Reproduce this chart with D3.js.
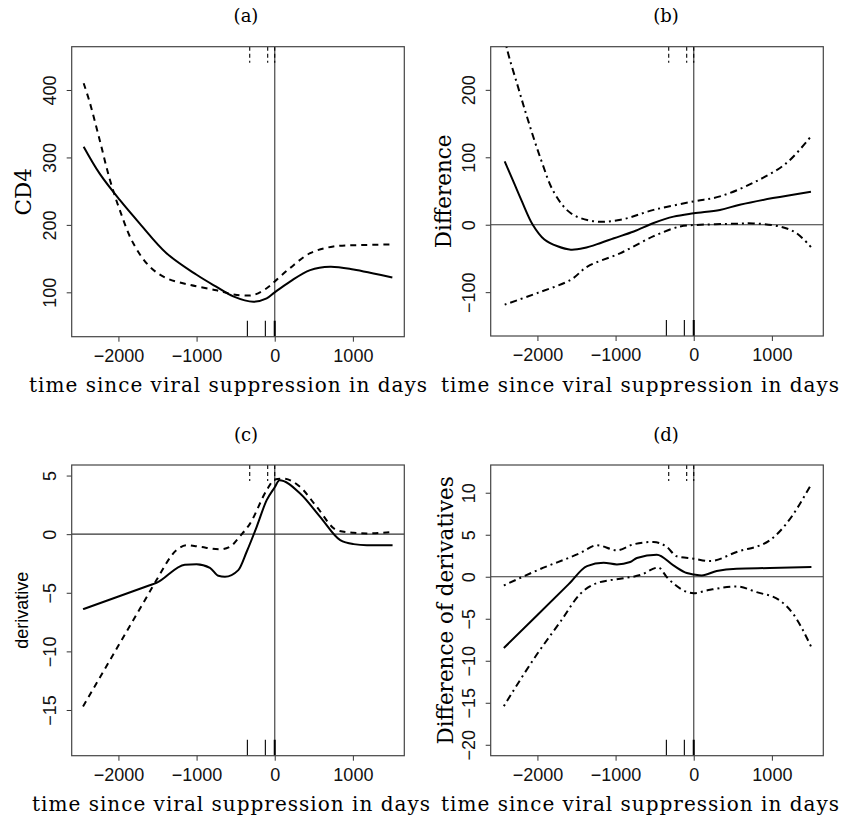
<!DOCTYPE html>
<html>
<head>
<meta charset="utf-8">
<script src="https://cdn.jsdelivr.net/npm/d3@7"></script>
<style>
  body { margin: 0; background: white; }
</style>
</head>
<body>
<div id="d3-container"></div>
<script>
// values (days since viral suppression)
let aSolidX = [-2445, -2240, -1983, -1727, -1385, -1000, -744, -531, -274, -103, 0, 196, 453, 709, 1008, 1264, 1505];
let aSolidY = [316, 276, 237, 202, 158, 126, 108, 94, 86, 91, 100, 116, 133, 138, 134, 128, 122];
let aDashX = [-2445, -2368, -2240, -2112, -1983, -1812, -1599, -1385, -1086, -744, -531, -274, -103, 0, 196, 453, 751, 1094, 1505];
let aDashY = [410, 382, 326, 268, 222, 173, 138, 121, 111, 103, 97, 96, 106, 116, 136, 158, 168, 170, 171];

let bSolidX = [-2419, -2300, -2200, -2060, -1911, -1742, -1572, -1403, -1191, -1021, -767, -513, -258, 0, 335, 589, 1013, 1500];
let bSolidY = [94, 62, 35, 0, -22, -32, -37, -34.6, -27, -20, -10, 2.5, 12, 17, 22, 29.6, 39.5, 49];
let bUpperX = [-2440, -2386, -2250, -2123, -1953, -1784, -1572, -1275, -936, -513, 0, 335, 758, 1182, 1500];
let bUpperY = [290, 259, 205, 156, 96, 47, 17, 5, 7.4, 22, 34.6, 42, 62, 91, 131];
let bLowerX = [-2419, -1996, -1572, -1360, -936, -513, -174, 0, 547, 758, 1097, 1309, 1500];
let bLowerY = [-118.5, -101, -81.5, -62, -42, -17, -2.5, -0.5, 1.5, 2, -2.5, -12, -33];

let cSolidX = [-2453, -2000, -1600, -1513, -1150, -1000, -829, -722, -637, -466, -359, -231, -103, 0, 60, 325, 581, 838, 1009, 1179, 1508];
let cSolidY = [-6.4, -5.32, -4.36, -4.15, -2.6, -2.56, -2.87, -3.55, -3.64, -3.07, -1.5, 0.63, 2.9, 4.0, 4.6, 3.47, 1.48, -0.51, -0.85, -0.94, -0.94];
let cDashX = [-2453, -2000, -1600, -1513, -1256, -1128, -957, -701, -573, -444, -316, -103, 0, 111, 325, 538, 795, 1009, 1179, 1500];
let cDashY = [-14.7, -9.5, -4.92, -3.92, -1.36, -0.94, -1.08, -1.3, -1.08, -0.17, 0.9, 3.75, 4.66, 4.74, 4.03, 2.33, 0.34, 0.11, 0.06, 0.17];

let dSolidX = [-2430, -2000, -1600, -1366, -1153, -983, -813, -728, -472, -260, -89, 0, 102, 294, 549, 974, 1506];
let dSolidY = [-8.49, -4.55, -0.88, 1.27, 1.67, 1.47, 1.75, 2.23, 2.63, 1.35, 0.44, 0.28, 0.16, 0.68, 0.96, 1.04, 1.16];
let dUpperX = [-2430, -2004, -1451, -1238, -983, -770, -515, -345, -217, 0, 209, 549, 974, 1187, 1506];
let dUpperY = [-1.04, 0.76, 2.83, 3.75, 3.15, 3.86, 4.14, 3.55, 2.43, 2.15, 1.87, 2.95, 4.34, 6.33, 11.04];
let dLowerX = [-2430, -2004, -1700, -1451, -1238, -940, -685, -450, -345, 0, 209, 549, 804, 1102, 1272, 1506];
let dLowerY = [-15.4, -9.2, -5.27, -2.03, -0.76, -0.24, 0.2, 1.1, -0.04, -1.95, -1.55, -1.16, -1.83, -2.83, -4.42, -8.4];

// rug marks
let rugBottom = [-350, -120, 0];
let rugTop = [-320, -90, 0];

let xTicks = [-2000, -1000, 0, 1000];
let aTicks = [100, 200, 300, 400];
let bTicks = [-100, 0, 100, 200];
let cTicks = [-15, -10, -5, 0, 5];
let dTicks = [-20, -15, -10, -5, 0, 5, 10];

let xDomain = [-2598, 1658];

let svg = d3.select('#d3-container')
  .append('svg')
  .attr('width', 843)
  .attr('height', 819)
  .style('background-color', 'white');

let serif = "'DejaVu Serif', serif";
let sans = "'Liberation Sans', Arial, sans-serif";

let dashed = "6,5";
let dotdash = "2,4,7,4";

function panel(opt) {
  let w = opt.right - opt.left, h = opt.bottom - opt.top;
  let x = d3.scaleLinear().domain(xDomain).range([0, w]);
  let y = d3.scaleLinear().domain(opt.yDomain).range([h, 0]);

  let g = svg.append("g").attr("transform", "translate(" + opt.left + "," + opt.top + ")");

  g.append("clipPath").attr("id", "clip" + opt.id)
    .append("rect").attr("width", w).attr("height", h);

  // x axis
  let xa = g.append("g")
    .attr("transform", "translate(0," + h + ")")
    .call(d3.axisBottom(x).tickValues(xTicks).tickFormat(d3.format("d")).tickSize(5).tickSizeOuter(0));
  xa.select(".domain").remove();
  xa.selectAll("line").attr("stroke", "#333");
  xa.selectAll("text")
    .attr("y", 25).attr("dy", 0)
    .style("font-family", sans).style("font-size", "18px").attr("fill", "#111");

  // y axis, labels parallel to the axis
  let ya = g.append("g")
    .call(d3.axisLeft(y).tickValues(opt.yTicks).tickFormat(d3.format("d")).tickSize(5).tickSizeOuter(0));
  ya.select(".domain").remove();
  ya.selectAll("line").attr("stroke", "#333");
  ya.selectAll("text")
    .attr("x", 0).attr("dy", 0)
    .attr("transform", "translate(-16,0) rotate(-90)")
    .attr("text-anchor", "middle")
    .style("font-family", sans).style("font-size", "18px").attr("fill", "#111");

  let plot = g.append("g").attr("clip-path", "url(#clip" + opt.id + ")");

  // reference lines
  plot.append("line")
    .attr("x1", x(0)).attr("x2", x(0)).attr("y1", 0).attr("y2", h)
    .attr("stroke", "#555").attr("stroke-width", 1.3);
  if (opt.hline) {
    plot.append("line")
      .attr("x1", 0).attr("x2", w).attr("y1", y(0)).attr("y2", y(0))
      .attr("stroke", "#333").attr("stroke-width", 1.2);
  }

  // rugs
  plot.selectAll(".rugb").data(rugBottom).enter().append("line")
    .attr("x1", d => x(d)).attr("x2", d => x(d))
    .attr("y1", h).attr("y2", h - 16)
    .attr("stroke", "black").attr("stroke-width", d => d === 0 ? 2 : 1.1);
  plot.selectAll(".rugt").data(rugTop).enter().append("line")
    .attr("x1", d => x(d)).attr("x2", d => x(d))
    .attr("y1", 0).attr("y2", 16)
    .attr("stroke", "black").attr("stroke-width", 1.1)
    .attr("stroke-dasharray", "4,3");

  let line = d3.line()
    .x(d => x(d[0])).y(d => y(d[1]))
    .curve(opt.curve);

  opt.series.forEach(function(s) {
    plot.append("path")
      .datum(d3.zip(s.x, s.y))
      .attr("d", line)
      .attr("fill", "none")
      .attr("stroke", "black")
      .attr("stroke-width", 2)
      .attr("stroke-dasharray", s.dash || null);
  });

  // box
  g.append("rect")
    .attr("width", w).attr("height", h)
    .attr("fill", "none").attr("stroke", "#444").attr("stroke-width", 1.2);

  // titles
  svg.append("text")
    .attr("x", opt.titleX).attr("y", opt.top - 24.5)
    .attr("text-anchor", "middle")
    .style("font-family", serif).style("font-size", "18px")
    .text(opt.title);

  svg.append("text")
    .attr("x", opt.xlabX).attr("y", opt.bottom + 55.5)
    .attr("text-anchor", "middle")
    .attr("textLength", 398).attr("lengthAdjust", "spacing")
    .style("font-family", serif).style("font-size", "20px")
    .text("time since viral suppression in days");

  svg.append("text")
    .attr("transform", "translate(" + (opt.left - opt.ylabOff) + "," + (opt.top + h / 2) + ") rotate(-90)")
    .attr("text-anchor", "middle")
    .style("font-family", opt.ylabSans ? sans : serif)
    .style("font-size", opt.ylabSans ? "18px" : "21.5px")
    .text(opt.ylab);
}

panel({
  id: "a", left: 71.7, right: 404.3, top: 46.7, bottom: 336.7,
  yDomain: [34.2, 464.2], yTicks: aTicks, hline: false, curve: d3.curveCatmullRom.alpha(0.5),
  title: "(a)", titleX: 246, xlabX: 228, ylab: "CD4", ylabOff: 40.5,
  series: [{x: aSolidX, y: aSolidY}, {x: aDashX, y: aDashY, dash: dashed}]
});

panel({
  id: "b", left: 490.7, right: 823.3, top: 46.7, bottom: 336,
  yDomain: [-165, 264], yTicks: bTicks, hline: true, curve: d3.curveCatmullRom.alpha(0.5),
  title: "(b)", titleX: 666, xlabX: 640, ylab: "Difference", ylabOff: 39.5,
  series: [{x: bSolidX, y: bSolidY}, {x: bUpperX, y: bUpperY, dash: dotdash}, {x: bLowerX, y: bLowerY, dash: dotdash}]
});

panel({
  id: "c", left: 71.7, right: 404.3, top: 465, bottom: 755.7,
  yDomain: [-18.9, 5.9], yTicks: cTicks, hline: true, curve: d3.curveMonotoneX,
  title: "(c)", titleX: 246, xlabX: 231, ylab: "derivative", ylabOff: 44, ylabSans: true,
  series: [{x: cSolidX, y: cSolidY}, {x: cDashX, y: cDashY, dash: dashed}]
});

panel({
  id: "d", left: 490.7, right: 823.3, top: 465, bottom: 755.7,
  yDomain: [-21.3, 13.3], yTicks: dTicks, hline: true, curve: d3.curveMonotoneX,
  title: "(d)", titleX: 666, xlabX: 640, ylab: "Difference of derivatives", ylabOff: 38,
  series: [{x: dSolidX, y: dSolidY}, {x: dUpperX, y: dUpperY, dash: dotdash}, {x: dLowerX, y: dLowerY, dash: dotdash}]
});
</script>
</body>
</html>
